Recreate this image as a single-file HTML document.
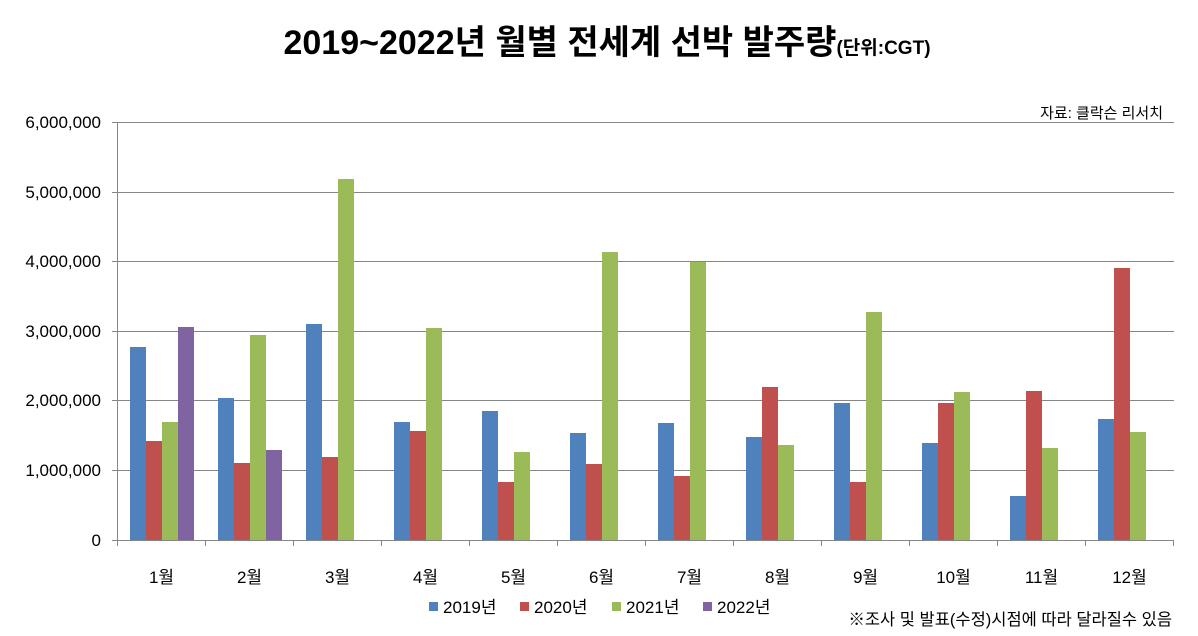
<!DOCTYPE html>
<html><head><meta charset="utf-8"><style>
body{margin:0;background:#fff;width:1198px;height:631px;overflow:hidden}
svg text{font-family:"Liberation Sans","Noto Sans CJK KR",sans-serif}
</style></head><body>
<svg width="1198" height="631" xmlns="http://www.w3.org/2000/svg">
<text x="607" y="54" text-anchor="middle" font-size="34" font-weight="bold" fill="#000">2019~2022년 월별 전세계 선박 발주량<tspan font-size="19">(단위:CGT)</tspan></text>
<text x="1163" y="118" text-anchor="end" font-size="15" fill="#000">자료: 클락슨 리서치</text>
<g stroke="#868686" stroke-width="1">
<line x1="112" y1="122.5" x2="1174" y2="122.5"/>
<line x1="112" y1="192.5" x2="1174" y2="192.5"/>
<line x1="112" y1="261.5" x2="1174" y2="261.5"/>
<line x1="112" y1="331.5" x2="1174" y2="331.5"/>
<line x1="112" y1="400.5" x2="1174" y2="400.5"/>
<line x1="112" y1="470.5" x2="1174" y2="470.5"/>
<line x1="112" y1="540.5" x2="1174" y2="540.5"/>
<line x1="117.5" y1="122" x2="117.5" y2="546"/>
</g>
<g font-size="17" fill="#000" text-anchor="end">
<text x="101" y="128">6,000,000</text><text x="101" y="198">5,000,000</text><text x="101" y="267">4,000,000</text><text x="101" y="337">3,000,000</text><text x="101" y="406">2,000,000</text><text x="101" y="476">1,000,000</text><text x="101" y="546">0</text>
</g>
<g id="bars"></g>
<g id="ticks" stroke="#868686"></g>
<g id="labels" font-size="17" fill="#000" text-anchor="middle"></g>
<g font-size="17" fill="#000">
<rect x="429" y="602" width="9" height="9" fill="#4F81BD"/><text x="443" y="613">2019년</text>
<rect x="520" y="602" width="9" height="9" fill="#C0504D"/><text x="534" y="613">2020년</text>
<rect x="612" y="602" width="9" height="9" fill="#9BBB59"/><text x="626" y="613">2021년</text>
<rect x="703" y="602" width="9" height="9" fill="#8064A2"/><text x="717" y="613">2022년</text>
</g>
<text x="1172" y="625" text-anchor="end" font-size="16.5" fill="#000">※조사 및 발표(수정)시점에 따라 달라질수 있음</text>
<script>
var d=[[347,441,422,327],[398,463,335,450],[324,457,179],[422,431,328],[411,482,452],[433,464,252],[423,476,262],[437,387,445],[403,482,312],[443,403,392],[496,391,448],[419,268,432]];
var c=["#4F81BD","#C0504D","#9BBB59","#8064A2"],ns="http://www.w3.org/2000/svg",b=document.getElementById("bars"),t=document.getElementById("ticks"),l=document.getElementById("labels");
d.forEach(function(g,i){var x0=117.5+88*i;g.forEach(function(y,j){var r=document.createElementNS(ns,"rect");r.setAttribute("x",x0+12.5+16*j);r.setAttribute("y",y);r.setAttribute("width",16);r.setAttribute("height",540-y);r.setAttribute("fill",c[j]);b.appendChild(r);});
var k=document.createElementNS(ns,"line");k.setAttribute("x1",x0+88);k.setAttribute("x2",x0+88);k.setAttribute("y1",540);k.setAttribute("y2",546);t.appendChild(k);
var tx=document.createElementNS(ns,"text");tx.setAttribute("x",x0+44);tx.setAttribute("y",583);tx.textContent=(i+1)+"월";l.appendChild(tx);});
</script>
</svg>
</body></html>
